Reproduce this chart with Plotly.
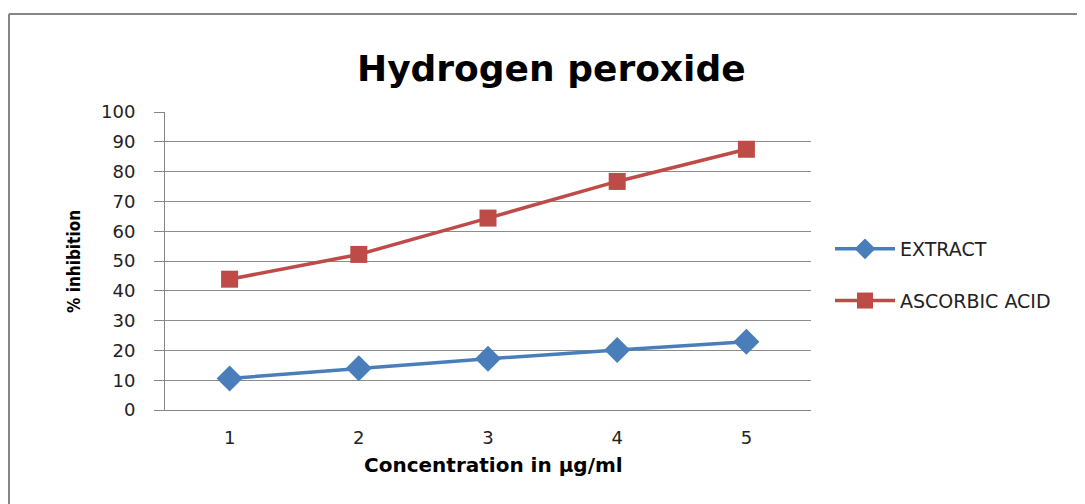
import plotly.graph_objects as go

concentration = [1, 2, 3, 4, 5]
extract = [10.6, 14.0, 17.2, 20.1, 22.9]
ascorbic_acid = [43.9, 52.2, 64.4, 76.7, 87.5]
y_ticks = [0, 10, 20, 30, 40, 50, 60, 70, 80, 90, 100]

# page body has an 8px margin; work in page pixel coords and shift
OFF = 8
W, H = 1085 - OFF, 504 - OFF
L, R, T, B = 165, 811, 112, 410  # plot area in page pixels


def px_x(p):
    return (p - L) / (R - L)


def px_y(p):
    return (B - p) / (B - T)


fig = go.Figure()
fig.add_trace(go.Scatter(
    x=concentration, y=extract, name="EXTRACT", mode="lines+markers",
    line=dict(color="#4A7EBB", width=3.5),
    marker=dict(symbol="diamond", size=20, color="#4A7EBB"),
    legendgroup="a",
))
fig.add_trace(go.Scatter(
    x=concentration, y=ascorbic_acid, name="ASCORBIC ACID", mode="lines+markers",
    line=dict(color="#BE4B48", width=3.5),
    marker=dict(symbol="square", size=17, color="#BE4B48"),
    legendgroup="b",
))

fig.update_layout(
    width=W, height=H,
    margin=dict(l=L - OFF, r=(1085 - R), t=T - OFF, b=(504 - B)),
    paper_bgcolor="white", plot_bgcolor="white",
    showlegend=True,
    xaxis=dict(range=[0.5, 5.5], tickvals=concentration, ticktext=[str(c) for c in concentration],
               showgrid=False, zeroline=False, showline=True, linecolor="#868686", linewidth=1,
               ticks="", ticklabelstandoff=11,
               tickfont=dict(family="DejaVu Sans", size=18, color="#222")),
    yaxis=dict(range=[0, 100], tickvals=y_ticks, showgrid=True, gridcolor="#8c8c8c", gridwidth=1,
               zeroline=False, showline=True, linecolor="#868686", linewidth=1,
               ticks="outside", ticklen=10, tickcolor="#868686", ticklabelstandoff=15,
               tickfont=dict(family="DejaVu Sans", size=18, color="#222")),
    legend=dict(x=px_x(830), xanchor="left", y=px_y(230), yanchor="top",
                font=dict(family="DejaVu Sans", size=19, color="#222"),
                tracegroupgap=24, itemwidth=60, bgcolor="rgba(0,0,0,0)"),
    annotations=[
        dict(text="<b>Hydrogen peroxide</b>", xref="paper", yref="paper",
             x=px_x(551), y=px_y(68), xanchor="center", yanchor="middle", showarrow=False,
             font=dict(family="DejaVu Sans", size=36, color="black")),
        dict(text="<b>Concentration in µg/ml</b>", xref="paper", yref="paper",
             x=px_x(493), y=px_y(465), xanchor="center", yanchor="middle", showarrow=False,
             font=dict(family="DejaVu Sans", size=20, color="black")),
        dict(text="<b>% inhibition</b>", xref="paper", yref="paper", textangle=-90,
             x=px_x(74), y=px_y(262), xanchor="center", yanchor="middle", showarrow=False,
             font=dict(family="DejaVu Sans Condensed, DejaVu Sans", size=17, color="black")),
    ],
    shapes=[
        dict(type="line", xref="paper", yref="paper", x0=px_x(9), x1=px_x(1084), y0=px_y(14), y1=px_y(14),
             line=dict(color="#868686", width=2)),
        dict(type="line", xref="paper", yref="paper", x0=px_x(9), x1=px_x(9), y0=px_y(14), y1=px_y(520),
             line=dict(color="#868686", width=2)),
    ],
)

fig.write_html("out.html")
